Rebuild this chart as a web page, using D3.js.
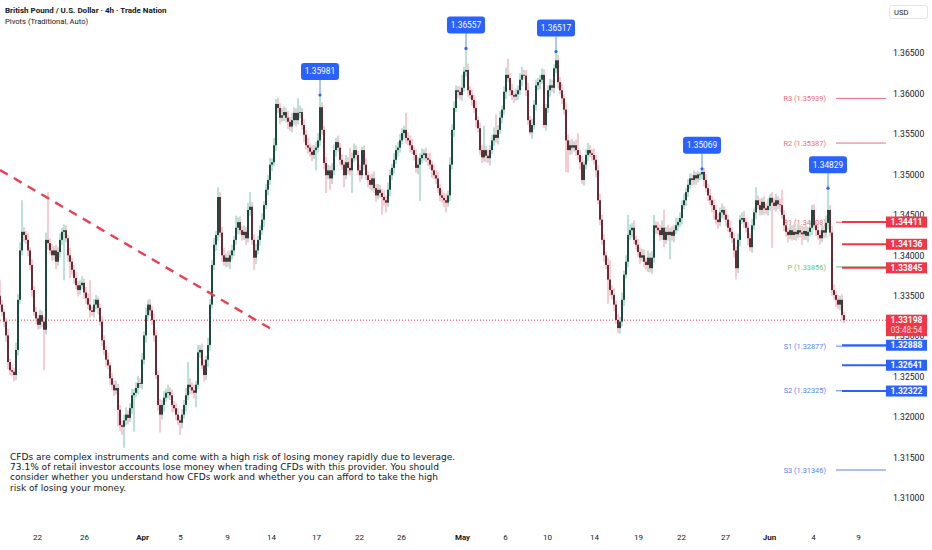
<!DOCTYPE html>
<html>
<head>
<meta charset="utf-8">
<script src="https://cdn.jsdelivr.net/npm/d3@7"></script>
<style>
  html, body { margin: 0; background: #fff; }
  svg { display: block; }
</style>
</head>
<body>
<div id="chart"></div>
<script>
// 4h closes, in pips above 1.3000 (open = previous close)
const firstOpen = 350;
const closes = [
  339,330,318,301,268,258,256,252,283,345,406,429,425,419,406,388,357,330,322,314,
  326,318,308,419,415,406,400,406,392,404,419,429,431,421,400,392,382,372,363,357,
  363,366,354,347,339,332,330,339,345,335,318,295,283,271,264,248,240,233,236,209,
  190,188,196,203,199,211,227,230,236,242,241,271,301,326,339,332,320,301,252,215,
  203,215,224,230,231,227,215,211,203,196,193,203,215,227,240,237,233,230,240,280,
  283,264,252,271,289,339,388,413,425,472,428,400,392,397,392,400,406,419,434,441,
  431,425,429,421,456,460,419,397,406,419,431,444,462,481,493,512,515,536,587,582,
  570,573,577,570,565,559,567,576,567,576,577,561,549,536,533,528,524,530,533,542,
  583,555,514,499,505,495,505,530,540,533,518,512,499,515,508,505,520,530,524,505,
  499,530,512,499,493,487,495,483,474,481,477,472,468,465,481,499,508,518,530,533,
  542,551,555,545,542,536,530,524,508,512,520,524,526,520,518,512,505,499,495,483,
  474,471,468,465,474,512,555,582,604,602,598,607,627,629,604,598,592,582,567,557,
  530,521,530,523,520,530,542,549,545,555,570,580,602,623,619,604,598,596,599,604,
  617,623,622,604,567,552,561,586,610,614,617,623,561,582,604,610,607,631,641,614,
  604,594,580,542,530,536,533,536,530,524,515,493,512,524,530,526,524,518,505,468,
  444,419,400,388,370,357,351,339,320,310,318,345,376,392,425,431,434,419,413,404,
  397,400,392,388,397,384,397,437,434,431,425,434,419,429,425,429,424,431,437,441,
  446,462,468,478,487,495,493,499,495,500,500,503,493,483,474,468,462,456,444,441,
  453,456,450,444,434,429,421,406,384,419,444,446,441,434,421,410,437,453,468,462,
  456,466,458,456,461,471,465,461,468,463,462,450,437,429,425,431,425,429,426,431,
  428,426,430,424,429,434,456,437,431,425,421,431,428,440,456,428,357,351,345,339,
  345,326,319.8
];
// upper / lower wick lengths in pips
const wickUp = [
  19,6,4,5,8,4,6,5,9,7,10,39,6,5,8,4,7,5,6,4,
  7,5,6,9,59,6,8,5,7,6,8,5,7,6,4,9,5,6,7,5,
  6,8,5,7,6,30,5,7,6,4,5,7,6,5,8,4,6,5,9,5,
  6,5,7,9,5,6,8,5,7,9,6,8,5,9,6,7,5,8,6,5,
  7,6,8,5,9,6,7,5,6,8,5,7,6,9,28,8,6,7,5,9,
  6,8,7,5,9,7,6,8,5,12,6,7,9,5,8,6,7,5,15,6,
  7,5,8,6,9,18,6,7,8,5,6,8,5,7,6,8,5,9,6,8,
  6,9,7,5,8,6,9,7,6,18,8,5,7,6,9,5,8,6,7,9,
  15.1,6,5,8,7,6,9,7,5,8,6,7,5,9,6,25,7,8,6,5,
  7,4,6,8,5,7,6,9,5,7,6,5,8,6,9,7,5,8,6,7,
  8,6,5,21,7,6,8,5,7,9,6,8,5,7,6,9,5,7,6,8,
  5,7,6,8,6,9,7,8,6,5,7,16,6,26.7,8,5,7,6,9,5,
  7,6,30,5,8,6,7,9,25,6,8,5,7,9,20,6,8,5,7,6,
  8,10,6,7,9,5,8,6,7,5,6,8,7,5,6,8,7,5,10.7,7,
  6,8,5,9,7,6,8,5,7,21,6,8,5,7,9,6,5,8,6,7,
  8,6,7,5,9,24,6,8,5,7,6,9,5,8,25,7,6,9,5,7,
  6,8,7,5,9,6,8,13,5,7,6,9,22,6,8,5,7,6,9,5,
  7,6,8,5,7,6,5,6,4,4,3,3.9,5,7,6,8,5,7,6,8,
  6,8,5,7,6,9,5,7,5,8,6,7,9,5,7,6,8,5,16,6,
  8,5,7,6,9,5,7,6,8,5,7,19,6,8,5,7,6,9,5,7,
  6,8,5,7,6,9,6,7,5,8,6,7,5,9,26.9,6,8,7,5,6,
  5,7,4
];
const wickDn = [
  6,5,7,8,9,6,5,8,6,7,5,6,9,5,7,6,8,5,7,6,
  5,7,50,6,8,5,7,6,9,5,7,6,60,5,8,20,6,7,5,8,
  6,5,8,7,6,9,5,7,6,8,5,7,6,9,5,8,6,7,5,20,
  7,10,26,6,8,5,7,45,6,8,5,7,6,9,5,7,6,8,5,7,
  22,6,8,5,7,6,9,5,7,6,15,7,5,8,6,9,5,7,18,6,
  7,5,8,6,9,7,5,6,8,7,6,8,5,7,6,9,5,7,6,8,
  5,7,6,8,5,7,6,15,8,5,7,6,9,5,7,6,8,5,7,6,
  8,5,7,6,9,5,7,6,8,5,7,6,9,5,7,6,8,5,25,6,
  7,6,8,22,5,14,7,6,8,5,7,6,15,5,8,6,28,5,7,6,
  8,5,7,6,9,5,7,6,8,5,6,22,7,12,5,8,6,7,5,8,
  6,5,8,7,6,9,5,7,6,8,45,6,7,5,8,6,9,5,7,6,
  7,6,8,12,5,7,6,9,5,8,6,7,5,6,8,5,7,6,9,5,
  6,7,5,8,6,9,5,7,6,8,5,7,6,9,5,7,6,8,5,7,
  6,8,5,7,6,3,8,5,7,6,9,5,4,7,6,8,5,7,6,8,
  5,7,6,39,28,6,8,5,7,6,9,5,7,6,8,5,7,6,9,5,
  7,6,8,5,30,7,6,8,5,6,7,6,8,5,7,6,9,5,7,6,
  8,5,7,6,9,5,7,6,8,5,7,6,9,5,7,30,6,8,5,7,
  6,8,5,7,6,5,7,6,8,5,7,6,8,5,7,6,9,12,6,8,
  5,7,6,8,5,7,6,9,14,6,8,5,7,6,9,5,7,6,8,5,
  7,6,8,5,7,6,56,5,7,6,8,5,7,6,9,5,7,6,8,5,
  6,13,7,5,8,6,9,5,7,6,8,5,7,6,8,5,7,6,9,5,
  7,6,4
];

const peakBars = [160, 233, 278, 351, 414];

const tickBars = [18.5, 42, 71, 90, 113.5, 135.5, 158, 179.5, 200.5, 231, 252.5, 273.5, 297, 319, 340.5, 362.5, 384.5, 406.5, 429];
const tickLabels = ["22", "26", "Apr", "5", "9", "14", "17", "22", "26", "May", "6", "10", "14", "19", "22", "27", "Jun", "4", "9"];
const monthLabels = ["Apr", "May", "Jun"];

const priceTicks = [1.31, 1.315, 1.32, 1.325, 1.33, 1.335, 1.34, 1.345, 1.35, 1.355, 1.36, 1.365];

const pivotNames = ["R3", "R2", "R1", "P", "S1", "S2", "S3"];
const pivotValues = [1.35939, 1.35387, 1.34408, 1.33856, 1.32877, 1.32325, 1.31346];
const pivotColors = ["#ef6b7b", "#ef6b7b", "#ef6b7b", "#6cbf6f", "#5b80f0", "#5b80f0", "#5b80f0"];

const levelValues = [1.34411, 1.34136, 1.33845, 1.32888, 1.32641, 1.32322];

const trendBars = [0, 136.5];
const trendPrices = [1.35054, 1.33076];

const countdown = "03:48:54";

const disclaimer = [
  "CFDs are complex instruments and come with a high risk of losing money rapidly due to leverage.",
  "73.1% of retail investor accounts lose money when trading CFDs with this provider. You should",
  "consider whether you understand how CFDs work and whether you can afford to take the high",
  "risk of losing your money."
];

// ---- build ----
const W = 932, H = 550;
const paneRight = 886;
const fmt = d3.format(".5f");
const red = "#f23645", blue = "#2962ff";

const candles = closes.map((c, i) => {
  const o = i ? closes[i - 1] : firstOpen;
  return {
    i,
    o: 1.3 + o / 1e4,
    c: 1.3 + c / 1e4,
    h: 1.3 + (Math.max(o, c) + wickUp[i]) / 1e4,
    l: 1.3 + (Math.min(o, c) - wickDn[i]) / 1e4
  };
});
const last = candles[candles.length - 1];

const x = d3.scaleLinear().domain([0, 442]).range([0, 884]);
const y = d3.scaleLinear().domain([1.31, 1.365]).range([498, 53]);

const svg = d3.select("#chart").append("svg")
  .attr("width", W).attr("height", H)
  .style("font-family", "Roboto, 'Noto Sans', sans-serif");

svg.append("rect").attr("width", W).attr("height", H).attr("fill", "#fff");

// header
svg.append("text").attr("x", 5).attr("y", 13)
  .attr("font-size", 8).attr("font-weight", 700).attr("fill", "#131722")
  .text("British Pound / U.S. Dollar · 4h · Trade Nation");
svg.append("text").attr("x", 5).attr("y", 24)
  .attr("font-size", 7.6).attr("fill", "#131722")
  .text("Pivots (Traditional, Auto)");

// pivot levels (behind the candles)
const piv = svg.append("g");
pivotValues.forEach((v, k) => {
  piv.append("line")
    .attr("x1", 836).attr("x2", paneRight)
    .attr("y1", y(v)).attr("y2", y(v))
    .attr("stroke", pivotColors[k]).attr("stroke-width", 1);
  piv.append("text")
    .attr("x", 826).attr("y", y(v) + 2.6)
    .attr("text-anchor", "end").attr("font-size", 7.4)
    .attr("fill", pivotColors[k])
    .text(`${pivotNames[k]} (${fmt(v)})`);
});

// current price dotted line
svg.append("line")
  .attr("x1", 0).attr("x2", paneRight)
  .attr("y1", y(last.c)).attr("y2", y(last.c))
  .attr("stroke", red).attr("stroke-width", 1)
  .attr("stroke-dasharray", "1,2");

// candles
const up = (d) => d.c >= d.o;
const g = svg.append("g");
g.selectAll("line.wick").data(candles).enter().append("line")
  .attr("class", "wick")
  .attr("x1", (d) => x(d.i)).attr("x2", (d) => x(d.i))
  .attr("y1", (d) => y(d.h)).attr("y2", (d) => y(d.l))
  .attr("stroke", (d) => (up(d) ? "#79c3ad" : "#f097a3"))
  .attr("stroke-width", 1);
g.selectAll("rect.body").data(candles).enter().append("rect")
  .attr("class", "body")
  .attr("x", (d) => x(d.i) - 0.9).attr("width", 1.8)
  .attr("y", (d) => y(Math.max(d.o, d.c)))
  .attr("height", (d) => Math.max(0.8, Math.abs(y(d.o) - y(d.c))))
  .attr("fill", (d) => (up(d) ? "#0d3a2e" : "#581a25"));

// dashed trend line
svg.append("line")
  .attr("x1", x(trendBars[0])).attr("y1", y(trendPrices[0]))
  .attr("x2", x(trendBars[1])).attr("y2", y(trendPrices[1]))
  .attr("stroke", "#ef3d4f").attr("stroke-width", 2.4)
  .attr("stroke-dasharray", "9,7");

// peak markers
peakBars.forEach((b) => {
  const d = candles[b];
  const px = x(d.i), py = y(d.h);
  const top = py - 15 - 17;
  svg.append("line").attr("x1", px).attr("x2", px)
    .attr("y1", top + 17).attr("y2", py)
    .attr("stroke", "#5b8cf7").attr("stroke-width", 1);
  svg.append("circle").attr("cx", px).attr("cy", py).attr("r", 1.6).attr("fill", blue);
  svg.append("rect").attr("x", px - 19).attr("y", top)
    .attr("width", 38).attr("height", 17).attr("rx", 3).attr("fill", blue);
  svg.append("text").attr("x", px).attr("y", top + 11.5)
    .attr("text-anchor", "middle").attr("font-size", 8.4)
    .attr("fill", "#fff").text(fmt(d.h));
});

// user levels
levelValues.forEach((v) => {
  svg.append("line")
    .attr("x1", 842).attr("x2", paneRight)
    .attr("y1", y(v)).attr("y2", y(v))
    .attr("stroke", v > last.c ? red : blue).attr("stroke-width", 2);
});

// price axis
const yAxis = svg.append("g")
  .attr("transform", `translate(893,0)`)
  .call(d3.axisRight(y).tickValues(priceTicks).tickFormat(fmt).tickSize(0).tickPadding(0));
yAxis.select(".domain").remove();
yAxis.selectAll("text").attr("font-size", 8.6).attr("fill", "#131722")
  .style("font-family", "Roboto, sans-serif");

// USD badge
svg.append("rect").attr("x", 889.5).attr("y", 5.5).attr("width", 38).attr("height", 13)
  .attr("rx", 2).attr("fill", "#fff").attr("stroke", "#e0e3eb");
svg.append("text").attr("x", 894).attr("y", 15).attr("font-size", 7.6)
  .attr("fill", "#131722").text("USD");

// level tags on the axis
levelValues.forEach((v) => {
  svg.append("rect").attr("x", paneRight).attr("y", y(v) - 5.5)
    .attr("width", 41).attr("height", 11)
    .attr("fill", v > last.c ? red : blue);
  svg.append("text").attr("x", paneRight + 20.5).attr("y", y(v) + 3.2)
    .attr("text-anchor", "middle").attr("font-size", 8.6).attr("font-weight", 700)
    .attr("fill", "#fff").text(fmt(v));
});

// last price tag
const ly = y(last.c);
svg.append("rect").attr("x", paneRight).attr("y", ly - 5.5)
  .attr("width", 41).attr("height", 21.5).attr("fill", red);
svg.append("text").attr("x", paneRight + 20.5).attr("y", ly + 3.2)
  .attr("text-anchor", "middle").attr("font-size", 8.6).attr("font-weight", 700)
  .attr("fill", "#fff").text(fmt(last.c));
svg.append("text").attr("x", paneRight + 20.5).attr("y", ly + 13)
  .attr("text-anchor", "middle").attr("font-size", 8.2)
  .attr("fill", "#ffd9dd").text(countdown);

// time axis
const xAxis = svg.append("g")
  .attr("transform", "translate(0,531)")
  .call(d3.axisBottom(x).tickValues(tickBars)
    .tickFormat((d, i) => tickLabels[i]).tickSize(0).tickPadding(3));
xAxis.select(".domain").remove();
xAxis.selectAll("text").attr("font-size", 8).attr("fill", "#131722")
  .style("font-family", "Roboto, sans-serif")
  .attr("font-weight", (d, i) => (monthLabels.includes(tickLabels[i]) ? 700 : 400));

// disclaimer
const disc = svg.append("text").attr("font-size", 9.05).attr("fill", "#131722")
  .style("font-family", "'DejaVu Sans', sans-serif");
disclaimer.forEach((line, k) => {
  disc.append("tspan").attr("x", 10).attr("y", 459.5 + k * 10.4).text(line);
});
</script>
</body>
</html>
